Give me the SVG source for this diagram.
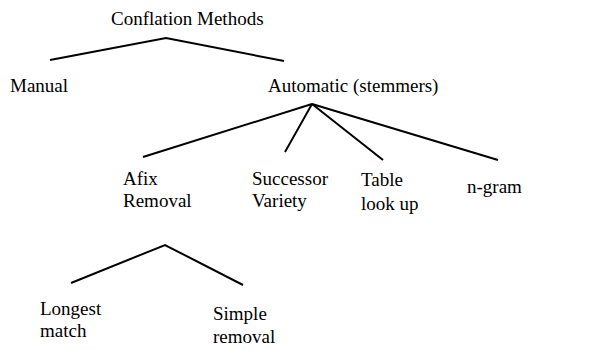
<svg xmlns="http://www.w3.org/2000/svg" width="599" height="350" viewBox="0 0 599 350" font-family="'Liberation Serif', 'DejaVu Serif', serif" font-size="19">
<style>
.c{fill:none;stroke:#000;stroke-width:2;stroke-linejoin:miter}
</style>
<rect width="599" height="350" fill="#fff"/>
<g id="connectors">
<polyline class="c" points="50,60 166,38 284,61"/>
<line class="c" x1="312" y1="104" x2="143" y2="157"/>
<line class="c" x1="312" y1="104" x2="285" y2="152"/>
<line class="c" x1="312" y1="104" x2="383" y2="160"/>
<line class="c" x1="312" y1="104" x2="498" y2="160"/>
<polyline class="c" points="71,283 165,245 243,285"/>
</g>
<g id="conflation"><text x="111" y="25">Conflation Methods</text></g>
<g id="manual"><text x="10" y="92">Manual</text></g>
<g id="automatic"><text x="268" y="92">Automatic (stemmers)</text></g>
<g id="afix"><text x="123" y="185">Afix</text><text x="123" y="207">Removal</text></g>
<g id="successor"><text x="252" y="185">Successor</text><text x="252" y="207">Variety</text></g>
<g id="table"><text x="361" y="186">Table</text><text x="361" y="210">look up</text></g>
<g id="ngram"><text x="467" y="193">n-gram</text></g>
<g id="longest"><text x="40" y="315">Longest</text><text x="40" y="337">match</text></g>
<g id="simple"><text x="213" y="320">Simple</text><text x="213" y="343">removal</text></g>
</svg>
